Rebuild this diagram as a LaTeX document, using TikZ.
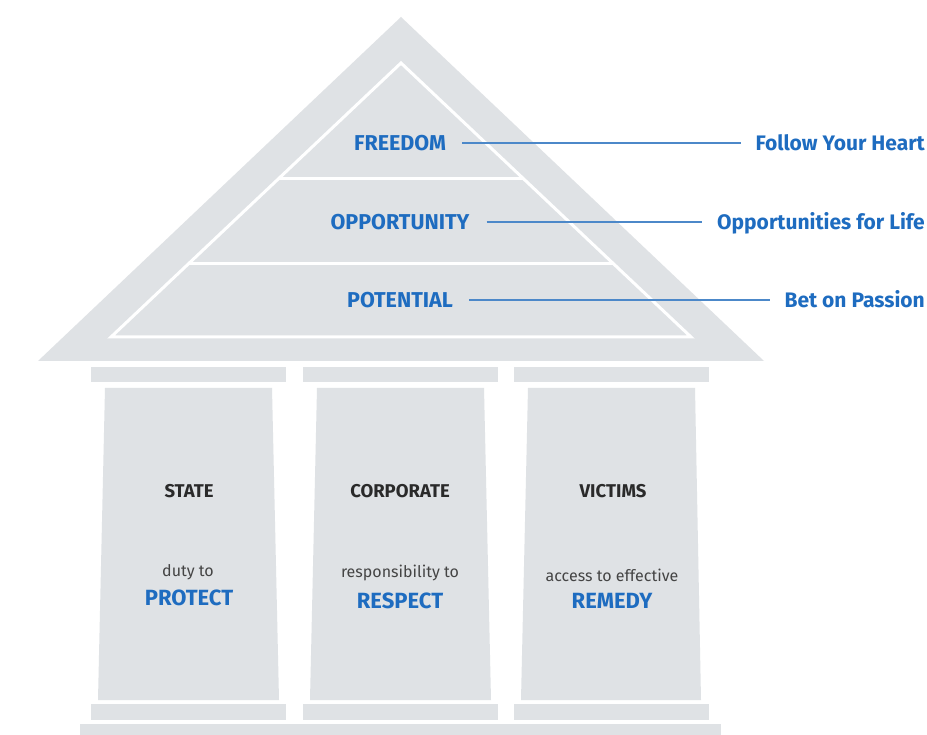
\documentclass[tikz,border=0pt]{standalone}
\usepackage{fontspec}
\setmainfont{Fira Sans}
\definecolor{stone}{HTML}{DFE2E5}
\definecolor{blueT}{HTML}{1E6CC0}
\definecolor{blueL}{HTML}{4C88C9}
\definecolor{darkT}{HTML}{2A2A2A}
\definecolor{grayT}{HTML}{444444}
\begin{document}
\begin{tikzpicture}[x=1pt,y=-1pt,
  stonefill/.style={fill=stone},
  ridge/.style={draw=white,line width=3pt},
  tier/.style={inner sep=0pt,text height=14.8pt,text depth=0pt,text=blueT,font=\fontsize{21.5}{23}\selectfont\bfseries},
  motto/.style={inner sep=0pt,text height=14.5pt,text depth=0pt,text=blueT,font=\fontsize{21}{23}\selectfont\bfseries,anchor=east},
  conn/.style={draw=blueL,line width=1.3pt},
  actor/.style={inner sep=0pt,text=darkT,font=\fontsize{18.5}{20}\selectfont\bfseries},
  duty/.style={inner sep=0pt,text=grayT,font=\fontsize{16}{18}\selectfont},
  verb/.style={inner sep=0pt,text=blueT,font=\fontsize{22}{24}\selectfont\bfseries}]
\useasboundingbox (0,0) rectangle (927,735);
\fill[white] (0,0) rectangle (927,735);
% roof
\fill[stonefill] (401,17) -- (764,361) -- (38,361) -- cycle;
\draw[ridge,line join=miter] (401,63) -- (691,337) -- (111,337) -- cycle;
\draw[ridge] (278.6,179) -- (523.4,179);
\draw[ridge] (189,264) -- (613,264);
% capitals
\fill[stonefill] (91,367) rectangle (286,382);
\fill[stonefill] (303,367) rectangle (498,382);
\fill[stonefill] (514,367) rectangle (709,382);
% shafts
\fill[stonefill] (105,388) -- (272,388) -- (279,700) -- (98,700) -- cycle;
\fill[stonefill] (317,388) -- (484,388) -- (491,700) -- (310,700) -- cycle;
\fill[stonefill] (528,388) -- (695,388) -- (701,700) -- (521,700) -- cycle;
% bases
\fill[stonefill] (91,704) rectangle (286,720);
\fill[stonefill] (303,704) rectangle (498,720);
\fill[stonefill] (514,704) rectangle (709,720);
\fill[stonefill] (80,724) rectangle (721,735);
% roof texts
\node[tier] (freedom) at (400,143) {FREEDOM};
\node[tier] (opportunity) at (400,222) {OPPORTUNITY};
\node[tier] (potential) at (400,300) {POTENTIAL};
\node[motto] (heart) at (925,143) {Follow Your Heart};
\node[motto] (life) at (925,222) {Opportunities for Life};
\node[motto] (passion) at (925,300) {Bet on Passion};
\draw[conn] ([xshift=16pt]freedom.east) -- ([xshift=-14pt]heart.west);
\draw[conn] ([xshift=17pt]opportunity.east) -- ([xshift=-15pt]life.west);
\draw[conn] ([xshift=16pt]potential.east) -- ([xshift=-14pt]passion.west);
% pillar texts
\node[actor] (state) at (189,491) {STATE};
\node[actor] (corporate) at (400,491) {CORPORATE};
\node[actor] (victims) at (613,491) {VICTIMS};
\node[duty] (dutyto) at (188,572) {duty to};
\node[duty] (respto) at (400,573) {responsibility to};
\node[duty] (accessto) at (612,575) {access to effective};
\node[verb] (protect) at (189,598) {PROTECT};
\node[verb] (respect) at (400,601) {RESPECT};
\node[verb] (remedy) at (612,601) {REMEDY};
\end{tikzpicture}
\end{document}
